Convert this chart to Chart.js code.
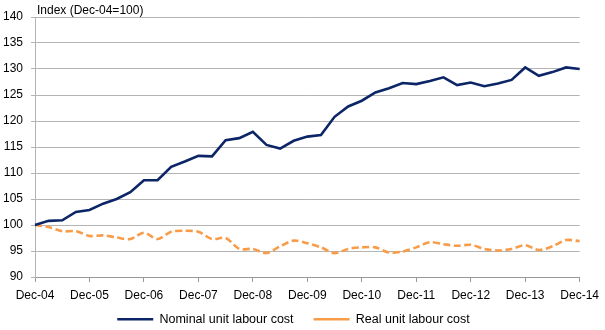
<!DOCTYPE html>
<html>
<head>
<meta charset="utf-8">
<script src="https://cdn.jsdelivr.net/npm/chart.js@4"></script>
<style>
  html, body { margin: 0; padding: 0; background: #fff; }
  #wrap { width: 605px; height: 330px; position: relative; }
</style>
</head>
<body>
<div id="wrap"><canvas id="ulc-chart"></canvas></div>
<script>
// Quarterly, Dec-04 .. Dec-14
const quarters = [
  'Dec-04','Mar-05','Jun-05','Sep-05','Dec-05','Mar-06','Jun-06','Sep-06',
  'Dec-06','Mar-07','Jun-07','Sep-07','Dec-07','Mar-08','Jun-08','Sep-08',
  'Dec-08','Mar-09','Jun-09','Sep-09','Dec-09','Mar-10','Jun-10','Sep-10',
  'Dec-10','Mar-11','Jun-11','Sep-11','Dec-11','Mar-12','Jun-12','Sep-12',
  'Dec-12','Mar-13','Jun-13','Sep-13','Dec-13','Mar-14','Jun-14','Sep-14',
  'Dec-14'
];

const nominalUlc = [
  100.0, 100.8, 100.9, 102.5, 102.9, 104.1, 105.0, 106.3,
  108.6, 108.6, 111.2, 112.2, 113.3, 113.2, 116.3, 116.7,
  117.9, 115.4, 114.7, 116.2, 117.0, 117.3, 120.8, 122.8,
  123.9, 125.5, 126.3, 127.3, 127.1, 127.7, 128.4, 126.9,
  127.4, 126.7, 127.2, 127.9, 130.3, 128.7, 129.4, 130.3,
  130.0
];

const realUlc = [
  100.0, 99.6, 98.8, 98.8, 97.9, 98.0, 97.6, 97.3,
  98.5, 97.3, 98.7, 98.9, 98.7, 97.3, 97.5, 95.4,
  95.4, 94.6, 95.9, 97.0, 96.5, 95.7, 94.6, 95.4,
  95.7, 95.7, 94.7, 94.9, 95.7, 96.7, 96.3, 96.0,
  96.2, 95.4, 95.1, 95.4, 96.1, 95.2, 95.9, 97.1,
  96.9
];

const yTitle = 'Index (Dec-04=100)';

const FONT = "'Liberation Sans', Arial, sans-serif";
Chart.defaults.font.family = FONT;
Chart.defaults.font.size = 12;
Chart.defaults.color = '#000';

const GRID = '#b4b4b4';
const AXIS = '#999999';

// unit label above the plot, top-left
const titlePlugin = {
  id: 'unitTitle',
  afterDraw(chart) {
    const { ctx, chartArea } = chart;
    ctx.save();
    ctx.font = '12px ' + FONT;
    ctx.fillStyle = '#000';
    ctx.textBaseline = 'middle';
    ctx.textAlign = 'left';
    ctx.fillText(yTitle, chartArea.left + 2, 11);
    ctx.restore();
  }
};

// legend needs wide item gaps but sits close under the axis labels
const legendShift = {
  id: 'legendShift',
  afterLayout(chart) {
    const l = chart.legend;
    const dy = (chart.scales.x.top + 16) - l.top;
    l.top += dy;
    l.bottom += dy;
  }
};

new Chart(document.getElementById('ulc-chart'), {
  type: 'line',
  data: {
    labels: quarters,
    datasets: [
      {
        label: 'Nominal unit labour cost',
        data: nominalUlc,
        borderColor: '#0c2567',
        backgroundColor: '#0c2567',
        borderWidth: 2.6,
        pointRadius: 0,
        tension: 0
      },
      {
        label: 'Real unit labour cost',
        data: realUlc,
        borderColor: '#f89c4a',
        backgroundColor: '#f89c4a',
        borderWidth: 2.6,
        borderDash: [7, 3.5],
        pointRadius: 0,
        tension: 0.3
      }
    ]
  },
  options: {
    responsive: true,
    maintainAspectRatio: false,
    animation: false,
    layout: { padding: { top: 17, right: 18, bottom: -12, left: 0 } },
    scales: {
      x: {
        offset: false,
        grid: {
          drawOnChartArea: false,
          tickLength: 5,
          color: (c) => (c.index % 4 === 0 ? AXIS : 'transparent')
        },
        border: { color: AXIS },
        ticks: {
          autoSkip: false,
          maxRotation: 0,
          padding: 6,
          callback: function (v, i) {
            return i % 4 === 0 ? this.getLabelForValue(v) : '';
          }
        },
        afterFit: (s) => { s.height = 28; }
      },
      y: {
        min: 90,
        max: 140,
        ticks: { stepSize: 5, padding: 8 },
        grid: { color: GRID, tickLength: 4 },
        border: { color: GRID },
        afterFit: (s) => { s.width = 35; }
      }
    },
    plugins: {
      legend: {
        position: 'bottom',
        maxHeight: 37,
        labels: {
          usePointStyle: true,
          pointStyle: 'line',
          pointStyleWidth: 36,
          padding: 20,
          color: '#000',
          font: { size: 12.5 }
        }
      },
      tooltip: { enabled: false }
    }
  },
  plugins: [titlePlugin, legendShift]
});
</script>
</body>
</html>
